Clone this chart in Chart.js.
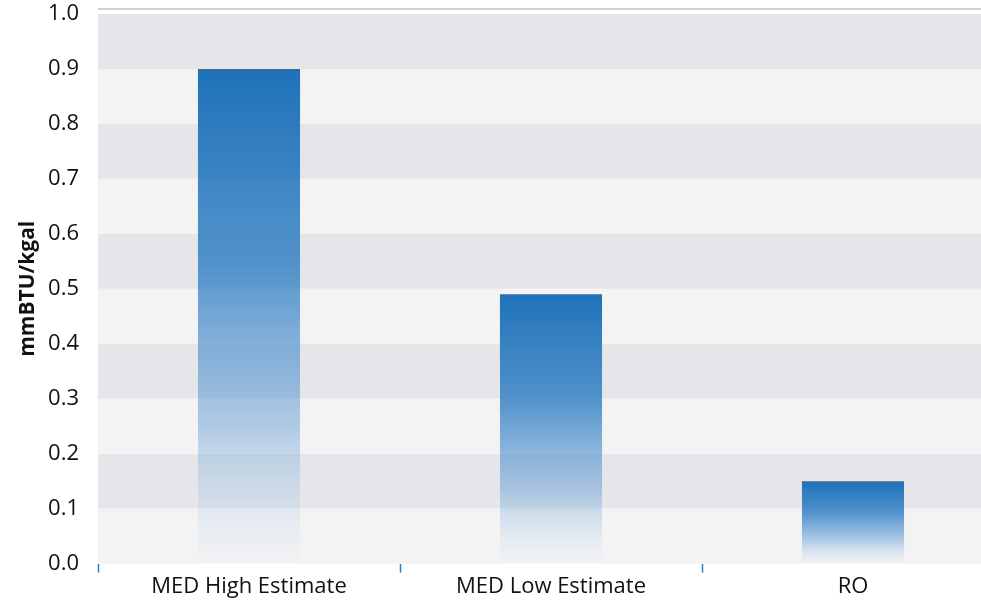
<!DOCTYPE html>
<html>
<head>
<meta charset="utf-8">
<script src="https://cdn.jsdelivr.net/npm/chart.js@4"></script>
<style>
  html, body { margin: 0; padding: 0; background: #fff; overflow: hidden; }
  #wrap { width: 1004px; height: 601px; }
</style>
</head>
<body>
<div id="wrap"><canvas id="myChart"></canvas></div>
<script>
const categories = ["MED High Estimate", "MED Low Estimate", "RO"];
const energyValues = [0.9, 0.49, 0.15];
const yTicks = [0.0, 0.1, 0.2, 0.3, 0.4, 0.5, 0.6, 0.7, 0.8, 0.9, 1.0];

const FONT = "'Open Sans', 'Noto Sans', sans-serif";

// alternating grey bands behind the bars, plus the thin top line
const bandPlugin = {
  id: "bands",
  beforeDatasetsDraw(chart) {
    const { ctx, chartArea, scales } = chart;
    const y = scales.y;
    ctx.save();
    for (let i = 0; i < yTicks.length - 1; i++) {
      const top = y.getPixelForValue(yTicks[i + 1]);
      const bot = y.getPixelForValue(yTicks[i]);
      ctx.fillStyle = (yTicks.length - 2 - i) % 2 == 0 ? "#e5e6e9" : "#f3f3f3";
      ctx.fillRect(chartArea.left, top, chartArea.right - chartArea.left, bot - top);
    }
    ctx.strokeStyle = "#b9c3ca";
    ctx.lineWidth = 1.5;
    ctx.beginPath();
    ctx.moveTo(chartArea.left, chartArea.top - 5);
    ctx.lineTo(chartArea.right, chartArea.top - 5);
    ctx.stroke();
    ctx.restore();
  },
};

function barGradient(context) {
  const chart = context.chart;
  if (!chart.chartArea) return "#1f72b8";
  const y = chart.scales.y;
  const v = context.raw;
  const top = y.getPixelForValue(v);
  const bot = y.getPixelForValue(0);
  const g = chart.ctx.createLinearGradient(0, top, 0, bot);
  g.addColorStop(0, "rgba(30,113,184,1)");
  g.addColorStop(0.4, "rgba(50,128,196,0.82)");
  g.addColorStop(0.72, "rgba(90,150,210,0.45)");
  g.addColorStop(1, "rgba(200,220,240,0.05)");
  return g;
}

document.addEventListener("DOMContentLoaded", () => {
  new Chart("myChart", {
    type: "bar",
    data: {
      labels: categories,
      datasets: [
        {
          data: energyValues,
          backgroundColor: barGradient,
          borderWidth: 0,
          barPercentage: 0.338,
          categoryPercentage: 1,
        },
      ],
    },
    options: {
      responsive: true,
      maintainAspectRatio: false,
      animation: false,
      layout: { padding: { top: 14, right: 0, bottom: 0, left: 0 } },
      plugins: {
        legend: { display: false },
        tooltip: { enabled: false },
      },
      scales: {
        x: {
          offset: true,
          grid: {
            offset: true,
            drawOnChartArea: false,
            color: "#3a78b0",
            tickLength: 9,
            tickWidth: 1.5,
          },
          border: { display: false },
          ticks: {
            color: "#111",
            font: { family: FONT, size: 22 },
            padding: 1,
          },
        },
        y: {
          min: 0,
          max: 1.0,
          afterFit(scale) {
            scale.width = 98;
            scale.paddingTop = 0;
            scale.paddingBottom = 0;
          },
          grid: { display: false },
          border: { display: false },
          ticks: {
            stepSize: 0.1,
            color: "#111",
            font: { family: FONT, size: 22 },
            padding: 11,
            callback: (v) => v.toFixed(1),
          },
          title: {
            display: true,
            text: "mmBTU/kgal",
            color: "#111",
            font: { family: FONT, size: 21, weight: "bold" },
            padding: { top: 15, bottom: 4 },
          },
        },
      },
    },
    plugins: [bandPlugin],
  });
});
</script>
</body>
</html>
